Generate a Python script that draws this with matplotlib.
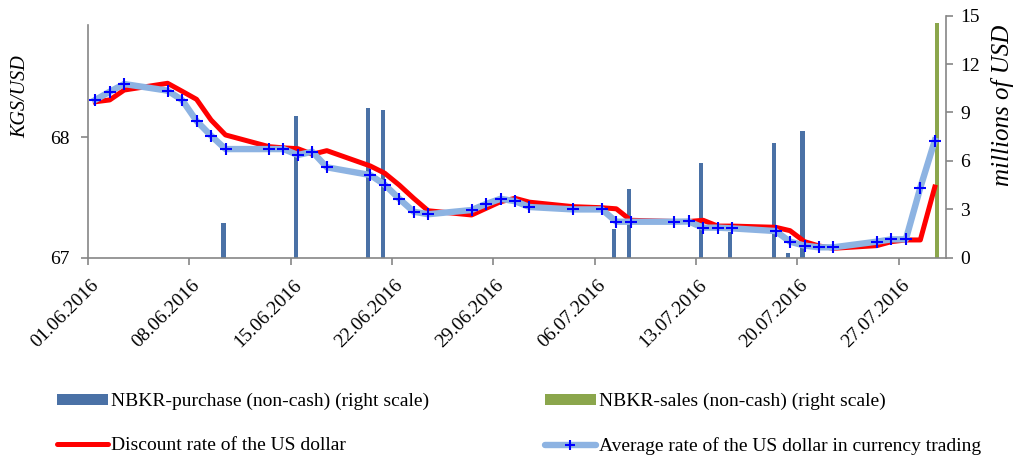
import matplotlib
matplotlib.use('Agg')
import matplotlib.pyplot as plt
import matplotlib.transforms as mtransforms
from matplotlib.lines import Line2D
from matplotlib.patches import Patch
import pandas as pd
import numpy as np

plt.rcParams['font.family'] = ['Liberation Serif', 'DejaVu Serif']

# ---------------- data ----------------
dates = ['01.06.2016', '02.06.2016', '03.06.2016', '06.06.2016', '07.06.2016', '08.06.2016',
         '09.06.2016', '10.06.2016', '13.06.2016', '14.06.2016', '15.06.2016', '16.06.2016',
         '17.06.2016', '20.06.2016', '21.06.2016', '22.06.2016', '23.06.2016', '24.06.2016',
         '27.06.2016', '28.06.2016', '29.06.2016', '30.06.2016', '01.07.2016', '04.07.2016',
         '06.07.2016', '07.07.2016', '08.07.2016', '11.07.2016', '12.07.2016', '13.07.2016',
         '14.07.2016', '15.07.2016', '18.07.2016', '19.07.2016', '20.07.2016', '21.07.2016',
         '22.07.2016', '25.07.2016', '26.07.2016', '27.07.2016', '28.07.2016', '29.07.2016']

avg_rate = [68.307, 68.375, 68.439, 68.384, 68.307, 68.133,
            68.011, 67.900, 67.900, 67.900, 67.851, 67.878,
            67.749, 67.685, 67.605, 67.488, 67.381, 67.360,
            67.395, 67.445, 67.488, 67.468, 67.420, 67.400,
            67.400, 67.298, 67.298, 67.298, 67.300, 67.249,
            67.249, 67.243, 67.221, 67.133, 67.100, 67.086,
            67.086, 67.133, 67.152, 67.152, 67.580, 67.970]

discount_rate = [68.292, 68.307, 68.389, 68.445, 68.379, 68.312,
                 68.141, 68.017, 67.920, 67.910, 67.903, 67.857,
                 67.887, 67.760, 67.700, 67.602, 67.492, 67.389,
                 67.354, 67.409, 67.464, 67.492, 67.460, 67.423,
                 67.414, 67.405, 67.310, 67.300, 67.300, 67.310,
                 67.262, 67.262, 67.252, 67.224, 67.133, 67.097,
                 67.078, 67.100, 67.133, 67.147, 67.147, 67.585]

purchase_dates = ['10.06.2016', '15.06.2016', '20.06.2016', '21.06.2016', '07.07.2016',
                  '08.07.2016', '13.07.2016', '15.07.2016', '18.07.2016', '19.07.2016',
                  '20.07.2016']
purchase_values = [2.13, 8.78, 9.26, 9.16, 1.78, 4.24, 5.85, 1.57, 7.09, 0.27, 7.87]

sales_dates = ['29.07.2016']
sales_values = [14.53]

tick_labels = ['01.06.2016', '08.06.2016', '15.06.2016', '22.06.2016', '29.06.2016',
               '06.07.2016', '13.07.2016', '20.07.2016', '27.07.2016']
left_ticks = [67, 68]
right_ticks = [0, 3, 6, 9, 12, 15]

label_purchase = 'NBKR-purchase (non-cash) (right scale)'
label_sales = 'NBKR-sales (non-cash) (right scale)'
label_discount = 'Discount rate of the US dollar'
label_avg = 'Average rate of the US dollar in currency trading'

# ---------------- helpers ----------------
start = pd.Timestamp('2016-06-01')


def day_pos(labels):
    return np.array([(pd.to_datetime(s, format='%d.%m.%Y') - start).days for s in labels], float)


x = day_pos(dates) + 0.5
xp = day_pos(purchase_dates) + 0.5
xs = day_pos(sales_dates) + 0.5
xt = day_pos(tick_labels)

W, H = 1017, 458
fig = plt.figure(figsize=(W / 100, H / 100), dpi=100)
L, R, T, B = 88, 946, 15.7, 257.7
ax = fig.add_axes([L / W, 1 - B / H, (R - L) / W, (B - T) / H])
ax2 = ax.twinx()

grey = '#868686'
c_purchase = '#4a71a6'
c_sales = '#8ba64c'
c_red = '#ff0000'
c_light = '#8db3e2'
c_mark = '#0000ff'

bw = 0.28
ax2.bar(xp - bw / 2, purchase_values, width=bw, color=c_purchase, zorder=1)
ax2.bar(xs + bw / 2, sales_values, width=bw, color=c_sales, zorder=1)
ax2.set_ylim(0, 15)
ax2.set_yticks(right_ticks)

ax.plot(x, discount_rate, color=c_red, lw=3.6, solid_joinstyle='round', zorder=2)
ax.plot(x, avg_rate, color=c_light, lw=4.6, marker='+', ms=9, mec=c_mark, mew=1.5,
        solid_joinstyle='round', zorder=3)

ax.set_zorder(ax2.get_zorder() + 1)
ax.patch.set_visible(False)

ax.set_xlim(0, (R - L) / 14.475)
ax.set_ylim(67, 67 + (B - T) / 120.7)
ax.set_yticks(left_ticks)
ax.set_xticks(xt)

for a in (ax, ax2):
    for s in a.spines.values():
        s.set_visible(False)
ax.spines['left'].set_visible(True)
ax.spines['bottom'].set_visible(True)
ax2.spines['right'].set_visible(True)
for s in (ax.spines['left'], ax.spines['bottom'], ax2.spines['right']):
    s.set_color(grey)
    s.set_linewidth(1.2)
ax.spines['left'].set_bounds(67, 67 + (B - 25) / 120.7)

ax.tick_params(axis='x', direction='out', length=5, width=1.2, color=grey, labelsize=14, pad=2)
ax.tick_params(axis='y', direction='out', length=5, width=1.2, color=grey, labelsize=14, pad=8)
ax2.tick_params(axis='y', direction='out', length=5, width=1.2, color=grey, labelsize=14, pad=5)

ax.set_xticklabels(tick_labels, rotation=45, ha='right', va='top', rotation_mode='anchor')
offset = mtransforms.ScaledTranslation(2 / 100, -9 / 100, fig.dpi_scale_trans)
for lab in ax.get_xticklabels():
    lab.set_transform(lab.get_transform() + offset)

fig.text(21 / W, 1 - 97 / H, 'KGS/USD', rotation=90, ha='center', va='center',
         fontsize=14.5, style='italic')
fig.text(1002 / W, 1 - 105 / H, 'millions of USD', rotation=90, ha='center', va='center',
         fontsize=18, style='italic')

# ---------------- legend ----------------
h_purchase = Patch(facecolor=c_purchase, edgecolor='none')
h_sales = Patch(facecolor=c_sales, edgecolor='none')
h_red = Line2D([], [], color=c_red, lw=3.6, solid_capstyle='round')
h_avg = Line2D([], [], color=c_light, lw=4.6, marker='+', ms=7, mec=c_mark, mew=1.5,
               solid_capstyle='round', markevery=[1])
common = dict(frameon=False, fontsize=14, handlelength=2.6, handletextpad=0.2,
              handleheight=0.45, labelspacing=1.36, borderpad=0, borderaxespad=0,
              loc='upper left')
fig.legend([h_purchase, h_red], [label_purchase, label_discount],
           bbox_to_anchor=(57 / W, 1 - 393 / H), **common)
fig.legend([h_sales, h_avg], [label_sales, label_avg],
           bbox_to_anchor=(545 / W, 1 - 393 / H), **common)

fig.savefig('out.png', dpi=100)
